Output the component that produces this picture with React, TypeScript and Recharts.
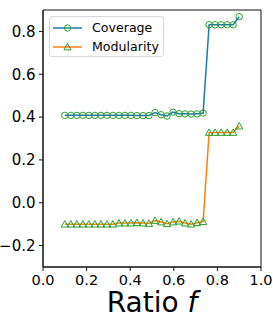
import { Line, LineChart, ReferenceArea, XAxis, YAxis } from "recharts";

// ratio f sampled at 30 evenly spaced points between 0.1 and 0.9
const ratios = [
  0.1, 0.1276, 0.1552, 0.1828, 0.2103, 0.2379, 0.2655, 0.2931, 0.3207, 0.3483,
  0.3759, 0.4034, 0.431, 0.4586, 0.4862, 0.5138, 0.5414, 0.569, 0.5966, 0.6241,
  0.6517, 0.6793, 0.7069, 0.7345, 0.7621, 0.7897, 0.8172, 0.8448, 0.8724, 0.9,
];

const coverage = [
  0.408, 0.408, 0.408, 0.408, 0.408, 0.408, 0.408, 0.408, 0.408, 0.408,
  0.408, 0.408, 0.407, 0.407, 0.407, 0.421, 0.411, 0.405, 0.423, 0.416,
  0.415, 0.414, 0.415, 0.419, 0.831, 0.831, 0.831, 0.831, 0.831, 0.869,
];

const modularity = [
  -0.1, -0.1, -0.1, -0.1, -0.1, -0.1, -0.1, -0.1, -0.1, -0.095,
  -0.095, -0.095, -0.093, -0.095, -0.097, -0.083, -0.09, -0.098, -0.09, -0.086,
  -0.095, -0.1, -0.093, -0.088, 0.328, 0.328, 0.328, 0.328, 0.328, 0.358,
];

const xTicks = [0, 0.2, 0.4, 0.6, 0.8, 1.0];
const yTicks = [-0.2, 0, 0.2, 0.4, 0.6, 0.8];

const data = ratios.map((f, i) => ({ f, coverage: coverage[i], modularity: modularity[i] }));

const FONT = "DejaVu Sans";
const BLUE = "#1f77b4";
const ORANGE = "#ff7f0e";
const GREEN = "#2ca02c";

const fmt = (v: number) => v.toFixed(1).replace("-", "\u2212");

const circleDot = (p: any) => (
  <circle key={`c${p.index}`} cx={p.cx} cy={p.cy} r={3.2} fill="none" stroke={GREEN} strokeWidth={1} />
);

const triPath = (cx: number, cy: number, s = 3.6) =>
  `M${cx},${cy - s} L${cx + s},${cy + s * 0.8} L${cx - s},${cy + s * 0.8} Z`;

const triDot = (p: any) => (
  <path key={`t${p.index}`} d={triPath(p.cx, p.cy)} fill="none" stroke={GREEN} strokeWidth={1} />
);

const XTick = (p: any) => (
  <text x={p.x} y={p.y + 11} textAnchor="middle" fontFamily={FONT} fontSize={14.5} fill="#000">
    {fmt(p.payload.value)}
  </text>
);

const YTick = (p: any) => (
  <text x={p.x} y={p.y + 5.4} textAnchor="end" fontFamily={FONT} fontSize={15} fill="#000">
    {fmt(p.payload.value)}
  </text>
);

const XLabel = (props: any) => {
  const vb = props.viewBox || { x: 43, y: 267, width: 217, height: 60 };
  return (
    <text x={vb.x + vb.width / 2} y={312} textAnchor="middle" fontFamily={FONT} fontSize={28} fill="#000">
      {"Ratio "}
      <tspan fontStyle="italic">f</tspan>
    </text>
  );
};

function LegendBox() {
  const rows = [
    { label: "Coverage", color: BLUE, marker: "circle" },
    { label: "Modularity", color: ORANGE, marker: "tri" },
  ];
  return (
    <div
      style={{
        position: "absolute",
        left: 49,
        top: 16,
        width: 113,
        height: 39,
        border: "1px solid #d9d9d9",
        borderRadius: 3,
        background: "rgba(255,255,255,0.8)",
        fontFamily: FONT,
        fontSize: 12.6,
      }}
    >
      {rows.map((r, i) => (
        <div key={r.label} style={{ position: "absolute", left: 0, top: 2 + i * 18.5, height: 18, display: "flex", alignItems: "center" }}>
          <svg width={40} height={18} style={{ display: "block" }}>
            <line x1={3} x2={32} y1={9} y2={9} stroke={r.color} strokeWidth={1.5} />
            {r.marker === "circle" ? (
              <circle cx={17.5} cy={9} r={3.2} fill="none" stroke={GREEN} strokeWidth={1} />
            ) : (
              <path d={triPath(17.5, 9)} fill="none" stroke={GREEN} strokeWidth={1} />
            )}
          </svg>
          <span style={{ marginLeft: 2, lineHeight: "18px" }}>{r.label}</span>
        </div>
      ))}
    </div>
  );
}

export default function App() {
  return (
    <div style={{ position: "absolute", left: 0, top: 0, width: 273, height: 327, background: "#fff" }}>
      <LineChart width={273} height={327} data={data} margin={{ top: 10, right: 12, left: 0, bottom: 0 }}>
        <ReferenceArea x1={0} x2={1} y1={-0.3} y2={0.9} fill="none" stroke="#111" strokeWidth={1} />
        <XAxis
          dataKey="f"
          type="number"
          domain={[0, 1]}
          ticks={xTicks}
          height={60}
          tickSize={4}
          tickMargin={3}
          stroke="#111"
          tick={<XTick />}
          label={<XLabel />}
        />
        <YAxis
          type="number"
          domain={[-0.3, 0.9]}
          ticks={yTicks}
          width={43}
          tickSize={4}
          tickMargin={3.5}
          stroke="#111"
          tick={<YTick />}
        />
        <Line
          dataKey="coverage"
          stroke={BLUE}
          strokeWidth={1.5}
          dot={circleDot}
          activeDot={false}
          isAnimationActive={false}
        />
        <Line
          dataKey="modularity"
          stroke={ORANGE}
          strokeWidth={1.5}
          dot={triDot}
          activeDot={false}
          isAnimationActive={false}
        />
      </LineChart>
      <LegendBox />
    </div>
  );
}
